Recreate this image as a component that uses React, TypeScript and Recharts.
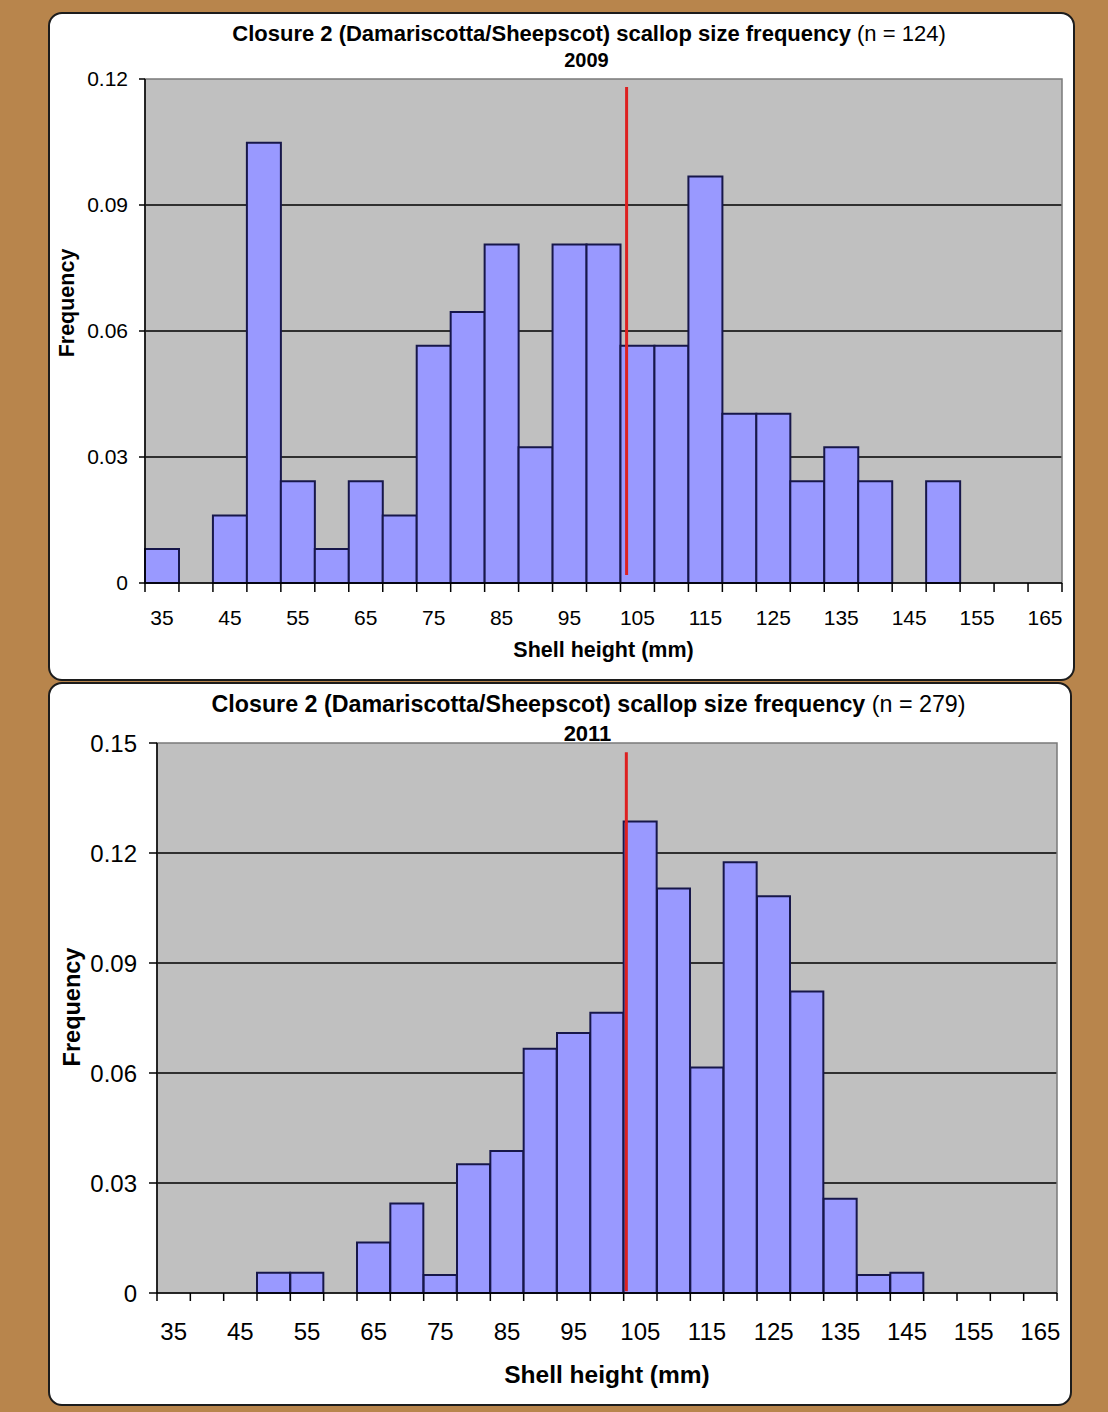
import React from 'react';
import { BarChart, Bar, XAxis, YAxis, CartesianGrid, ReferenceLine, ReferenceArea } from 'recharts';

// shell height bins (mm) and the labels Excel printed under every other bin
const sizes = [35, 40, 45, 50, 55, 60, 65, 70, 75, 80, 85, 90, 95, 100, 105, 110, 115, 120, 125, 130, 135, 140, 145, 150, 155, 160, 165];
const sizeLabels = [35, 45, 55, 65, 75, 85, 95, 105, 115, 125, 135, 145, 155, 165];

// relative frequency per bin
const freq2009 = [0.0081, 0, 0.0161, 0.1048, 0.0242, 0.0081, 0.0242, 0.0161, 0.0565, 0.0645, 0.0806, 0.0323, 0.0806, 0.0806, 0.0565, 0.0565, 0.0968, 0.0403, 0.0403, 0.0242, 0.0323, 0.0242, 0, 0.0242, 0, 0, 0];
const freq2011 = [0, 0, 0, 0.0055, 0.0055, 0, 0.0138, 0.0244, 0.0049, 0.0351, 0.0387, 0.0666, 0.0709, 0.0764, 0.1286, 0.1103, 0.0615, 0.1175, 0.1082, 0.0822, 0.0257, 0.0049, 0.0055, 0, 0, 0, 0];

const yTicks2009 = [0, 0.03, 0.06, 0.09, 0.12];
const yTicks2011 = [0, 0.03, 0.06, 0.09, 0.12, 0.15];

// red marker line (x in mm, vertical extent in frequency units)
const marker2009 = { x: 103.4, from: 0.0019, to: 0.1181 };
const marker2011 = { x: 102.9, from: 0.0005, to: 0.1475 };

const FONT = '"Liberation Sans", Arial, sans-serif';
const BAR_FILL = '#9999FF';
const BAR_EDGE = '#17174A';
const PLOT_BG = '#C0C0C0';

// bin edges carry the tick marks, the labels sit on bin centres
const binEdges = [...sizes.map((s) => s - 2.5), sizes[sizes.length - 1] + 2.5];
const xTicks = [...binEdges, ...sizeLabels].sort((a, b) => a - b);

const topLayout = {
    left: 48, top: 12, width: 1027, height: 669,
    plot: { left: 97, top: 67, right: 1014, bottom: 571 },
    tickFont: 21, xTickLen: 9, xLabelDy: 42, yTickLen: 6, yTickGap: 11,
    title: { x: 541, y: 28.5, size: 22 },
    year: { x: 538.5, y: 55, size: 20 },
    xTitle: { x: 555.5, y: 645, size: 21.5 },
    yTitle: { x: 25.5, y: 291, size: 21.5 },
};

const bottomLayout = {
    left: 48, top: 682, width: 1024, height: 724,
    plot: { left: 109, top: 61, right: 1009, bottom: 611 },
    tickFont: 24, xTickLen: 8, xLabelDy: 47, yTickLen: 8, yTickGap: 12,
    title: { x: 540.5, y: 30, size: 23.25 },
    year: { x: 539.5, y: 59, size: 22 },
    xTitle: { x: 559, y: 701, size: 24.5 },
    yTitle: { x: 31.5, y: 325, size: 23.5 },
};

const SizeTick = ({ x, y, payload, fontSize, tickLen, labelDy }: any) => {
    const v = payload.value;
    if (sizeLabels.includes(v)) {
        return (
            <text x={x} y={y + labelDy} textAnchor="middle" fontSize={fontSize} fontFamily={FONT} fill="#000">
                {v}
            </text>
        );
    }
    return <line x1={x} x2={x} y1={y} y2={y + tickLen} stroke="#000" strokeWidth={1.5} />;
};

const Histogram: React.FC<{ layout: any; values: number[]; yTicks: number[]; marker: any; n: number; year: string }> = ({ layout, values, yTicks, marker, n, year }) => {
    const data = sizes.map((s, i) => ({ size: s, freq: values[i] }));
    const yMax = yTicks[yTicks.length - 1];
    const { plot } = layout;

    return (
        <div
            style={{
                position: 'absolute',
                left: layout.left,
                top: layout.top,
                width: layout.width,
                height: layout.height,
                background: '#fff',
                border: '2px solid #1c1c1c',
                borderRadius: 14,
                boxSizing: 'border-box',
            }}
        >
            <div style={{ position: 'absolute', left: -2, top: -2 }}>
                <BarChart
                    width={layout.width}
                    height={layout.height}
                    data={data}
                    margin={{ top: plot.top, right: layout.width - plot.right, left: 0, bottom: 0 }}
                    barCategoryGap={0}
                    barGap={0}
                    style={{ fontFamily: FONT }}
                >
                    <CartesianGrid xAxisId="num" fill={PLOT_BG} fillOpacity={1} vertical={false} stroke="#000" strokeWidth={1.3} horizontalValues={yTicks.slice(1, -1)} />
                    <ReferenceArea xAxisId="num" x1={binEdges[0]} x2={binEdges[binEdges.length - 1]} y1={0} y2={yMax} fill="none" stroke="#7a7a7a" strokeWidth={1.5} />
                    <XAxis
                        xAxisId="num"
                        dataKey="size"
                        type="number"
                        domain={[binEdges[0], binEdges[binEdges.length - 1]]}
                        ticks={xTicks}
                        interval={0}
                        height={layout.height - plot.bottom}
                        tickSize={0}
                        tickMargin={0}
                        tickLine={false}
                        axisLine={{ stroke: '#000', strokeWidth: 1.5 }}
                        tick={(p: any) => <SizeTick {...p} fontSize={layout.tickFont} tickLen={layout.xTickLen} labelDy={layout.xLabelDy} />}
                    />
                    <XAxis xAxisId="cat" dataKey="size" type="category" height={0} hide />
                    <YAxis
                        domain={[0, yMax]}
                        ticks={yTicks}
                        interval={0}
                        width={plot.left}
                        tickSize={layout.yTickLen}
                        tickMargin={layout.yTickGap}
                        tickFormatter={(v: number) => (v === 0 ? '0' : String(v))}
                        tick={{ fill: '#000', fontSize: layout.tickFont, fontFamily: FONT }}
                        axisLine={{ stroke: '#000', strokeWidth: 1.5 }}
                        tickLine={{ stroke: '#000', strokeWidth: 1.5 }}
                    />
                    <Bar xAxisId="cat" dataKey="freq" fill={BAR_FILL} stroke={BAR_EDGE} strokeWidth={2} isAnimationActive={false} />
                    <ReferenceLine
                        xAxisId="num"
                        segment={[
                            { x: marker.x, y: marker.from },
                            { x: marker.x, y: marker.to },
                        ]}
                        stroke="#DD2020"
                        strokeWidth={3}
                    />
                </BarChart>
            </div>
            <svg
                width={layout.width}
                height={layout.height}
                style={{ position: 'absolute', left: -2, top: -2, pointerEvents: 'none' }}
                fontFamily={FONT}
            >
                <text x={layout.title.x} y={layout.title.y} textAnchor="middle" fontSize={layout.title.size} fill="#000">
                    <tspan fontWeight="bold">Closure 2 (Damariscotta/Sheepscot) scallop size frequency</tspan>
                    <tspan fontWeight="normal"> (n = {n})</tspan>
                </text>
                <text x={layout.year.x} y={layout.year.y} textAnchor="middle" fontSize={layout.year.size} fontWeight="bold" fill="#000">
                    {year}
                </text>
                <text x={layout.xTitle.x} y={layout.xTitle.y} textAnchor="middle" fontSize={layout.xTitle.size} fontWeight="bold" fill="#000">
                    Shell height (mm)
                </text>
                <text
                    x={layout.yTitle.x}
                    y={layout.yTitle.y}
                    transform={`rotate(-90, ${layout.yTitle.x}, ${layout.yTitle.y})`}
                    textAnchor="middle"
                    fontSize={layout.yTitle.size}
                    fontWeight="bold"
                    fill="#000"
                >
                    Frequency
                </text>
            </svg>
        </div>
    );
};

const App: React.FC = () => {
    return (
        <div style={{ position: 'absolute', left: 0, top: 0, width: 1108, height: 1412, background: '#B8854C', fontFamily: FONT }}>
            <Histogram layout={topLayout} values={freq2009} yTicks={yTicks2009} marker={marker2009} n={124} year="2009" />
            <Histogram layout={bottomLayout} values={freq2011} yTicks={yTicks2011} marker={marker2011} n={279} year="2011" />
        </div>
    );
};

export default App;
